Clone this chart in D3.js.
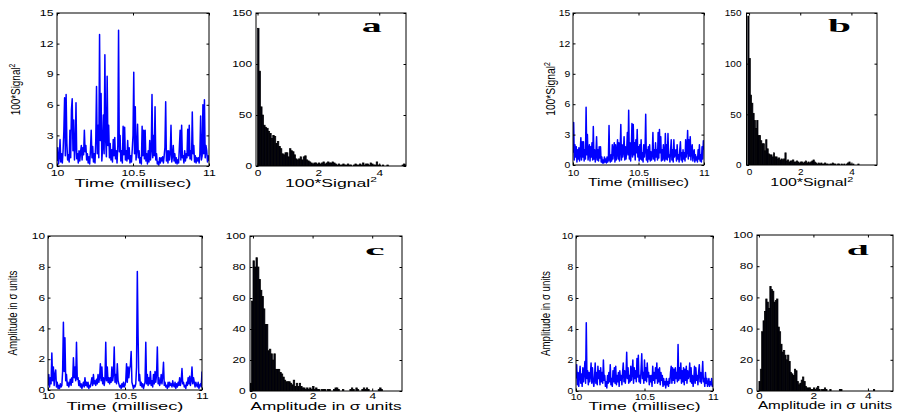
<!DOCTYPE html>
<html>
<head>
<meta charset="utf-8">
<script src="https://cdn.jsdelivr.net/npm/d3@7"></script>
<style>
  body { margin: 0; background: #fff; }
  svg { display: block; }
</style>
</head>
<body>
<svg id="chart" width="899" height="416"></svg>
<script>
// time series sampled every 5 microseconds from 10 ms
const timeStart = 10;
const timeStep = 0.005;

const signalA = [
  0.5, 1.8, 0.2, 0.8, 2.6, 0.4, 1.2, 0.3, 1.5, 3.4,
  6.7, 1.0, 7.0, 2.2, 0.6, 1.1, 0.4, 3.5, 0.8, 5.5,
  6.6, 1.5, 4.5, 0.6, 1.8, 6.2, 0.7, 1.2, 0.3, 1.5,
  0.5, 1.4, 2.0, 0.6, 1.8, 1.1, 3.5, 1.4, 2.0, 0.6,
  1.2, 0.3, 0.9, 0.2, 1.5, 3.5, 0.8, 1.9, 0.4, 1.2,
  0.3, 2.5, 7.8, 1.2, 4.0, 0.8, 12.9, 2.5, 7.1, 0.5,
  1.8, 5.0, 1.2, 10.9, 2.6, 0.9, 8.8, 2.0, 4.0, 0.8,
  2.2, 0.6, 1.6, 0.4, 2.6, 1.0, 2.8, 0.7, 1.5, 0.3,
  2.0, 13.3, 1.4, 3.0, 0.5, 1.5, 0.3, 3.9, 1.1, 3.8,
  0.6, 1.5, 0.5, 2.5, 0.7, 1.8, 0.3, 1.0, 0.4, 1.6,
  3.0, 9.2, 1.2, 5.8, 0.6, 1.5, 4.1, 0.8, 1.5, 0.3,
  0.8, 0.2, 3.9, 1.0, 3.5, 0.7, 3.5, 0.5, 1.2, 0.2,
  1.5, 0.4, 2.5, 0.6, 1.5, 7.0, 0.8, 3.0, 1.0, 5.8,
  0.6, 1.2, 0.2, 0.4, 0.1, 0.8, 0.3, 0.8, 0.5, 0.9,
  0.3, 1.0, 1.8, 6.3, 0.5, 1.5, 0.3, 1.5, 0.6, 1.2,
  4.0, 0.4, 1.0, 2.0, 0.5, 1.2, 0.3, 0.8, 0.2, 0.6,
  0.3, 1.8, 3.5, 0.6, 4.0, 0.8, 1.0, 0.3, 1.5, 0.5,
  1.2, 0.8, 3.6, 1.0, 4.0, 0.7, 1.5, 0.6, 5.3, 1.2,
  2.0, 0.4, 1.0, 0.3, 0.8, 0.5, 0.8, 0.3, 1.2, 4.9,
  0.6, 1.0, 6.0, 1.2, 6.5, 0.8, 2.0, 1.5, 0.4, 1.0,
  0.5
];

const signalB = [
  1.2, 4.2, 0.5, 2.0, 0.8, 1.8, 0.3, 1.5, 0.6, 1.7,
  0.4, 1.2, 2.7, 0.5, 2.3, 0.8, 2.3, 0.4, 1.5, 0.6,
  5.7, 1.0, 3.0, 0.5, 1.2, 2.0, 0.4, 1.8, 0.8, 2.2,
  0.5, 3.8, 0.6, 1.5, 0.3, 1.0, 2.8, 0.5, 1.5, 0.4,
  1.8, 0.7, 1.8, 0.3, 0.8, 0.2, 0.5, 0.2, 0.8, 0.3,
  0.6, 0.2, 0.8, 0.3, 0.5, 3.9, 0.5, 0.3, 1.0, 0.4,
  2.0, 0.6, 1.5, 2.2, 0.3, 2.0, 0.5, 1.2, 2.5, 0.6,
  2.2, 0.4, 1.5, 4.0, 0.5, 2.0, 0.8, 1.4, 2.8, 0.5,
  1.8, 0.6, 1.5, 3.2, 1.0, 5.4, 0.6, 2.2, 0.4, 1.5,
  4.1, 0.8, 4.0, 1.0, 2.2, 0.5, 2.5, 1.2, 3.5, 0.8,
  1.8, 0.4, 2.0, 0.6, 2.5, 0.5, 1.2, 0.3, 2.0, 0.8,
  1.5, 5.0, 0.5, 1.5, 0.3, 1.8, 0.6, 2.0, 0.4, 1.3,
  0.5, 1.0, 3.2, 0.6, 1.5, 0.4, 2.2, 0.8, 1.5, 0.5,
  3.2, 0.7, 3.5, 1.2, 2.8, 0.4, 1.5, 0.5, 2.0, 0.8,
  0.4, 3.1, 0.6, 2.0, 0.5, 3.1, 0.8, 1.0, 0.3, 1.5,
  2.5, 0.5, 1.5, 0.3, 2.5, 0.8, 1.2, 1.5, 0.4, 2.0,
  0.6, 1.0, 0.3, 1.5, 2.3, 0.5, 1.2, 0.3, 1.5, 0.6,
  1.2, 0.4, 2.5, 0.8, 1.5, 3.4, 0.6, 2.5, 0.9, 2.8,
  0.5, 1.5, 2.0, 0.4, 1.2, 1.5, 0.3, 1.0, 0.5, 0.8,
  0.3, 1.5, 0.6, 2.0, 0.4, 1.0, 0.3, 1.8, 0.6, 2.4,
  1.5
];

const signalC = [
  0.3, 1.0, 0.2, 0.8, 0.4, 2.4, 0.6, 1.5, 0.3, 1.0,
  1.3, 0.2, 0.5, 0.1, 0.3, 0.1, 0.4, 0.2, 0.3, 1.2,
  4.4, 1.2, 3.4, 0.6, 1.0, 0.3, 0.5, 0.2, 0.4, 0.7,
  0.3, 0.8, 0.5, 2.1, 0.8, 1.5, 0.6, 3.1, 0.7, 0.8,
  0.3, 0.6, 0.2, 0.4, 0.1, 0.3, 0.5, 0.2, 0.8, 0.3,
  0.5, 0.2, 0.5, 0.1, 0.3, 0.2, 0.5, 0.8, 0.3, 1.0,
  0.4, 0.6, 0.3, 0.7, 0.4, 1.0, 0.5, 0.8, 1.7, 0.6,
  1.5, 0.4, 0.8, 0.3, 0.7, 3.1, 0.6, 1.5, 0.5, 0.8,
  0.4, 0.8, 0.5, 1.5, 0.6, 1.0, 2.8, 0.5, 1.0, 0.4,
  1.7, 0.6, 0.4, 0.2, 0.3, 0.1, 0.4, 0.2, 0.5, 0.2,
  0.3, 0.6, 1.7, 0.5, 1.5, 0.8, 1.4, 1.6, 2.5, 0.5,
  0.3, 0.1, 0.3, 0.2, 0.4, 1.5, 7.7, 3.5, 0.6, 1.0,
  0.3, 0.5, 0.2, 0.4, 0.1, 0.3, 0.5, 3.1, 0.4, 1.0,
  0.3, 0.8, 0.4, 1.2, 0.3, 0.6, 0.2, 1.0, 0.4, 1.2,
  0.5, 1.0, 2.8, 0.4, 0.8, 0.3, 0.5, 1.0, 0.4, 0.9,
  1.8, 0.3, 0.5, 0.2, 0.3, 0.1, 0.5, 0.2, 0.5, 0.3,
  0.4, 0.2, 0.6, 0.3, 0.2, 0.5, 0.1, 0.4, 0.2, 0.5,
  0.3, 0.8, 0.3, 0.6, 1.4, 0.4, 0.5, 0.2, 0.3, 0.1,
  0.5, 0.3, 0.8, 0.4, 0.9, 0.3, 0.6, 1.5, 0.4, 0.8,
  0.5, 0.2, 0.5, 0.3, 0.2, 0.5, 0.1, 0.3, 0.4, 0.2,
  1.2
];

const signalD = [
  0.8, 1.7, 0.4, 1.2, 0.3, 1.0, 1.6, 0.5, 1.1, 0.3,
  1.5, 0.6, 1.2, 1.9, 0.5, 4.4, 0.8, 1.3, 0.4, 1.2,
  0.6, 1.0, 1.8, 0.5, 1.5, 0.7, 0.3, 0.8, 1.8, 0.5,
  1.2, 0.4, 1.6, 0.8, 1.3, 0.4, 1.5, 0.6, 1.2, 0.5,
  2.0, 0.7, 1.0, 0.3, 0.6, 0.2, 1.0, 0.5, 1.2, 0.6,
  1.7, 0.4, 0.8, 0.3, 1.3, 0.6, 1.5, 0.5, 1.6, 0.4,
  1.0, 0.6, 1.2, 0.3, 1.3, 0.7, 1.0, 0.4, 1.2, 1.8,
  0.6, 1.3, 0.5, 1.0, 2.5, 0.8, 1.5, 0.5, 1.0, 0.6,
  1.6, 0.7, 1.2, 2.0, 0.5, 1.5, 0.8, 1.3, 0.6, 2.1,
  0.9, 2.3, 0.6, 1.0, 0.5, 1.4, 2.4, 0.8, 1.2, 0.5,
  2.0, 0.7, 1.5, 0.6, 1.8, 0.9, 1.2, 0.4, 1.0, 0.6,
  1.0, 0.3, 1.6, 0.7, 1.2, 0.5, 1.5, 0.8, 1.8, 0.5,
  1.4, 0.6, 1.5, 0.4, 1.2, 0.7, 1.0, 0.3, 0.8, 0.4,
  0.6, 0.2, 0.8, 0.4, 0.6, 0.3, 0.8, 0.5, 1.2, 1.6,
  0.5, 1.5, 0.7, 1.4, 0.5, 1.5, 0.8, 1.2, 0.6, 3.0,
  0.7, 1.5, 0.8, 1.8, 0.5, 1.3, 0.6, 1.5, 0.4, 1.4,
  0.7, 1.6, 0.5, 1.3, 0.8, 1.0, 1.8, 0.6, 1.5, 0.5,
  1.0, 0.3, 0.8, 1.6, 0.5, 1.5, 0.7, 1.0, 0.4, 1.2,
  1.7, 0.6, 1.2, 0.5, 1.0, 1.9, 0.6, 0.8, 0.3, 1.2,
  0.5, 0.8, 0.3, 0.5, 0.8, 0.3, 0.6, 0.4, 0.8, 0.3,
  0.4
];

// histograms, bins 0.05 wide
const binWidth = 0.05;

const histAStart = 0;
const histA = [
  135, 93, 58, 50, 40, 38, 37, 34, 32, 27, 30, 29, 22, 24, 19, 17, 12, 11, 13, 13,
  9, 17, 15, 14, 11, 7, 6, 7, 9, 6, 9, 10, 6, 5, 4, 3, 2, 3, 3, 2,
  3, 2, 3, 4, 2, 3, 4, 3, 3, 4, 3, 2, 1, 2, 1, 1, 2, 1, 1, 2,
  1, 1, 0, 1, 2, 1, 1, 2, 1, 3, 1, 2, 2, 1, 3, 2, 1, 1, 4, 1,
  1, 0, 1, 0, 0, 1, 0, 0, 0, 0, 0, 0, 0, 0, 0, 1, 2, 1, 0, 0
];

const histBStart = -0.05;
const histB = [
  147, 105, 69, 61, 51, 44, 36, 44, 29, 29, 24, 21, 21, 14, 25, 16, 11, 10, 10, 8,
  12, 8, 8, 6, 7, 5, 6, 5, 6, 12, 4, 5, 3, 4, 4, 5, 3, 3, 4, 3,
  2, 3, 3, 2, 3, 4, 2, 3, 2, 3, 4, 5, 3, 2, 1, 2, 1, 2, 1, 1,
  2, 1, 1, 0, 1, 1, 2, 1, 1, 0, 1, 1, 0, 1, 0, 1, 0, 1, 2, 3,
  1, 0, 1, 0, 0, 0, 1, 0, 0, 0, 0, 0, 0, 0, 0, 0, 0, 0, 0, 0
];

const histCStart = -0.1;
const histC = [
  5, 58, 84, 80, 86, 80, 72, 65, 61, 53, 43, 43, 26, 27, 24, 20, 24, 14, 14, 14,
  12, 11, 9, 7, 6, 6, 6, 5, 4, 7, 3, 5, 3, 5, 3, 2, 2, 1, 2, 1,
  2, 1, 3, 1, 2, 1, 1, 0, 1, 1, 1, 0, 1, 1, 0, 0, 1, 2, 2, 1,
  0, 0, 1, 0, 0, 0, 0, 1, 2, 1, 0, 2, 1, 0, 0, 1, 2, 1, 2, 1,
  0, 0, 0, 0, 0, 0, 1, 2, 1, 0, 0, 0, 0, 0, 0, 0, 0, 0, 0, 0
];

const histDStart = 0;
const histD = [
  6, 14, 38, 45, 51, 59, 57, 53, 67, 65, 64, 57, 58, 59, 41, 38, 30, 25, 26, 23,
  20, 23, 19, 12, 11, 10, 14, 13, 6, 4, 5, 7, 9, 6, 3, 2, 2, 2, 1, 1,
  2, 1, 2, 3, 1, 0, 1, 1, 2, 1, 0, 0, 1, 0, 0, 0, 0, 0, 0, 1,
  1, 0, 0, 0, 0, 0, 0, 0, 0, 0, 0, 0, 0, 0, 0, 0, 0, 0, 0, 0,
  0, 0, 0, 0, 1, 0, 0, 0, 0, 0, 0, 0, 0, 0, 0, 0, 0, 0, 0, 0
];

// ticks
const timeTicks = [10, 10.5, 11];
const powerTicks = [0, 3, 6, 9, 12, 15];
const ampTicks = [0, 2, 4, 6, 8, 10];
const histXTicks = [0, 2, 4];
const countTicksTop = [0, 50, 100, 150];
const countTicksBottom = [0, 20, 40, 60, 80, 100];

const panelLetters = ["a", "b", "c", "d"];

// layout
const panels = [
  { type: "line", values: signalA, box: [57, 209, 13, 166], xDomain: [10, 11], yDomain: [0, 15],
    xTicks: timeTicks, yTicks: powerTicks, sx: 1.45, pad: 3.5, xPad: 4,
    ylab: { x: 19.5, kind: "power", len: 52 }, xlab: { kind: "time", w: 117, y: 186.5 } },
  { type: "hist", values: histA, start: histAStart, box: [256, 406, 13, 166], xDomain: [-0.05, 4.88], yDomain: [0, 150],
    xTicks: histXTicks, yTicks: countTicksTop, sx: 1.4, pad: 4, xPad: 4,
    xlab: { kind: "power", w: 92, y: 186.5 }, letter: { i: 0, x: 361.7, y: 31.7, w: 20, size: 18 } },
  { type: "line", values: signalB, box: [573, 704, 13, 165], xDomain: [10, 11], yDomain: [0, 15],
    xTicks: timeTicks, yTicks: powerTicks, sx: 1.22, pad: 2.8, xPad: 4.5,
    ylab: { x: 554.5, kind: "power", len: 54 }, xlab: { kind: "time", w: 101, y: 185.5 } },
  { type: "hist", values: histB, start: histBStart, box: [746.5, 877, 13, 165], xDomain: [-0.1, 5], yDomain: [0, 150],
    xTicks: histXTicks, yTicks: countTicksTop, sx: 1.18, pad: 5, xPad: 4,
    xlab: { kind: "power", w: 83, y: 186 }, letter: { i: 1, x: 828, y: 32, w: 23, size: 18 } },
  { type: "line", values: signalC, box: [48, 202, 236, 390], xDomain: [10, 11], yDomain: [0, 10],
    xTicks: timeTicks, yTicks: ampTicks, sx: 1.4, pad: 3, xPad: 2.6,
    ylab: { x: 17, kind: "amp", len: 85 }, xlab: { kind: "time", w: 117, y: 409.5 } },
  { type: "hist", values: histC, start: histCStart, box: [250, 402, 236, 391], xDomain: [-0.1, 5], yDomain: [0, 100],
    xTicks: histXTicks, yTicks: countTicksBottom, sx: 1.4, pad: 4.3, xPad: 1.8,
    xlab: { kind: "amp", w: 152, y: 409.5 }, letter: { i: 2, x: 365, y: 255, w: 20, size: 15.5 } },
  { type: "line", values: signalD, box: [576, 713, 236, 391], xDomain: [10, 11], yDomain: [0, 10],
    xTicks: timeTicks, yTicks: ampTicks, sx: 1.22, pad: 2.8, xPad: 2.6,
    ylab: { x: 549.5, kind: "amp", len: 85 }, xlab: { kind: "time", w: 112, y: 409.5 } },
  { type: "hist", values: histD, start: histDStart, box: [757, 893, 235, 391], xDomain: [-0.07, 4.92], yDomain: [0, 100],
    xTicks: histXTicks, yTicks: countTicksBottom, sx: 1.4, pad: 4, xPad: 1.8,
    xlab: { kind: "amp", w: 135, y: 409 }, letter: { i: 3, x: 846.7, y: 255, w: 23, size: 15.5 } }
];

const sans = "'Liberation Sans', Arial, Helvetica, sans-serif";
const svg = d3.select("#chart");

// writes the label text into a <text> selection
function fillLabel(t, kind, sup) {
  if (kind === "time") {
    t.text("Time (millisec)");
  } else if (kind === "amp") {
    t.text("Amplitude in \u03c3 units");
  } else {
    t.append("tspan").text("100*Signal");
    t.append("tspan").attr("font-size", sup).attr("dy", "-0.55em").text("2");
  }
}

function drawPanel(p, idx) {
  const [x0, x1, y0, y1] = p.box;
  const x = d3.scaleLinear().domain(p.xDomain).range([x0, x1]);
  const y = d3.scaleLinear().domain(p.yDomain).range([y1, y0]);
  const g = svg.append("g");

  const clipId = "clip" + idx;
  svg.append("clipPath").attr("id", clipId)
    .append("rect").attr("x", x0).attr("y", y0).attr("width", x1 - x0).attr("height", y1 - y0);

  if (p.type === "line") {
    const line = d3.line()
      .x((d, i) => x(timeStart + i * timeStep))
      .y(d => y(d));
    g.append("path")
      .datum(p.values)
      .attr("clip-path", `url(#${clipId})`)
      .attr("d", line)
      .attr("fill", "none")
      .attr("stroke", "#0000ff")
      .attr("stroke-width", 1.5)
      .attr("stroke-linejoin", "round");
  } else {
    g.append("g")
      .attr("clip-path", `url(#${clipId})`)
      .selectAll("rect")
      .data(p.values.map((c, k) => ({ c, k })).filter(d => d.c > 0))
      .enter().append("rect")
      .attr("x", d => x(p.start + d.k * binWidth))
      .attr("width", d => x(p.start + (d.k + 1) * binWidth) - x(p.start + d.k * binWidth))
      .attr("y", d => y(d.c))
      .attr("height", d => y(0) - y(d.c))
      .attr("fill", "#000010")
      .attr("stroke", "#000")
      .attr("stroke-width", 0.7);
  }

  // frame
  g.append("rect")
    .attr("x", x0).attr("y", y0)
    .attr("width", x1 - x0).attr("height", y1 - y0)
    .attr("fill", "none").attr("stroke", "#000").attr("stroke-width", 1);

  const tick = 2.5;
  const styleAxis = sel => {
    sel.select(".domain").remove();
    sel.selectAll("line").attr("stroke", "#000");
    sel.attr("font-family", sans).attr("font-size", 8.5);
    sel.selectAll("text").attr("fill", "#000");
  };

  const bottom = g.append("g").attr("transform", `translate(0,${y1})`)
    .call(d3.axisBottom(x).tickValues(p.xTicks).tickSize(-tick).tickPadding(p.xPad).tickFormat(d3.format("")))
    .call(styleAxis);
  bottom.selectAll("text").attr("transform", `scale(${p.sx},1)`);

  g.append("g").attr("transform", `translate(0,${y0})`)
    .call(d3.axisTop(x).tickValues(p.xTicks).tickSize(-tick).tickFormat(""))
    .call(styleAxis);

  const left = g.append("g").attr("transform", `translate(${x0},0)`)
    .call(d3.axisLeft(y).tickValues(p.yTicks).tickSize(-tick).tickPadding(p.pad))
    .call(styleAxis);
  left.selectAll("text").each(function () {
    const t = d3.select(this);
    t.attr("x", +t.attr("x") / p.sx).attr("transform", `scale(${p.sx},1)`);
  });

  g.append("g").attr("transform", `translate(${x1},0)`)
    .call(d3.axisRight(y).tickValues(p.yTicks).tickSize(-tick).tickFormat(""))
    .call(styleAxis);

  // x label, stretched to the measured width
  const cx = (x0 + x1) / 2;
  const xl = g.append("text")
    .attr("font-family", sans).attr("font-size", 11)
    .attr("text-anchor", "middle")
    .attr("transform", `translate(${cx},${p.xlab.y})`);
  fillLabel(xl, p.xlab.kind, 7.5);
  const w0 = xl.node().getBBox().width;
  xl.attr("transform", `translate(${cx},${p.xlab.y}) scale(${p.xlab.w / w0},1)`);

  // y label, rotated and fitted to its length
  if (p.ylab) {
    const cy = (y0 + y1) / 2;
    const yl = g.append("text")
      .attr("font-family", sans).attr("font-size", 12.5)
      .attr("text-anchor", "middle")
      .attr("transform", `translate(${p.ylab.x},${cy}) rotate(-90)`);
    fillLabel(yl, p.ylab.kind, 8.5);
    const l0 = yl.node().getBBox().width;
    yl.attr("transform", `translate(${p.ylab.x},${cy}) rotate(-90) scale(${p.ylab.len / l0},1)`);
  }

  // panel letter
  if (p.letter) {
    const lt = g.append("text")
      .attr("font-family", "'Liberation Serif', 'Times New Roman', serif")
      .attr("font-weight", "bold")
      .attr("font-size", p.letter.size)
      .attr("transform", `translate(${p.letter.x},${p.letter.y})`)
      .text(panelLetters[p.letter.i]);
    const lw = lt.node().getBBox().width;
    lt.attr("transform", `translate(${p.letter.x},${p.letter.y}) scale(${p.letter.w / lw},1)`);
  }
}

panels.forEach(drawPanel);
</script>
</body>
</html>
